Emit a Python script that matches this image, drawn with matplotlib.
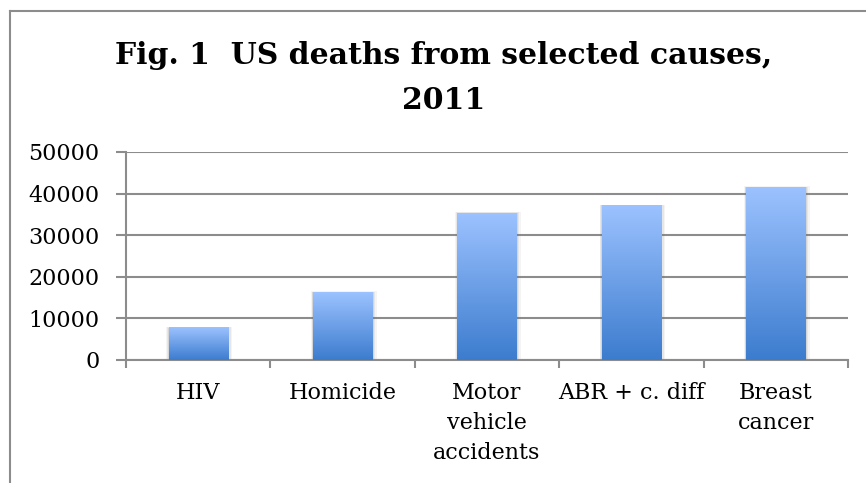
import numpy as np
import matplotlib.pyplot as plt
from matplotlib.colors import LinearSegmentedColormap
from matplotlib.lines import Line2D
from matplotlib.patches import Rectangle

# Données (décès aux USA, 2011)
causes = ["HIV", "Homicide", "Motor\nvehicle\naccidents", "ABR + c. diff", "Breast\ncancer"]
deaths = [7700, 16300, 35300, 37100, 41500]
yticks = [0, 10000, 20000, 30000, 40000, 50000]

plt.rcParams['font.family'] = ['DejaVu Serif']

fig = plt.figure(figsize=(8.66, 4.83), dpi=100)
ax = fig.add_axes([126 / 866, 1 - 360 / 483, 722 / 866, 208 / 483])

# Dégradé bleu des barres (clair en haut, foncé en bas)
cmap = LinearSegmentedColormap.from_list("bleu", ["#3c7cce", "#9cc2ff"])
grad = np.linspace(0, 1, 256).reshape(-1, 1)
width = 0.41

for i, v in enumerate(deaths):
    x0 = i - width / 2
    # ombre légère
    for k, a in enumerate([0.07, 0.10, 0.14]):
        d = 0.01 * (3 - k)
        ax.add_patch(Rectangle((x0 - d * 0.5, 0), width + d * 1.5, v + d * 8000,
                               color="#707070", alpha=a, lw=0, zorder=2))
    ax.imshow(grad, cmap=cmap, origin="lower", aspect="auto",
              extent=[x0, x0 + width, 0, v], zorder=3)

ax.set_xlim(-0.5, len(causes) - 0.5)
ax.set_ylim(0, 50000)

ax.set_yticks(yticks)
ax.set_yticklabels([str(t) for t in yticks])
ax.yaxis.grid(True, color="#8c8c8c", lw=1.5)
ax.set_axisbelow(True)

ax.set_xticks(range(len(causes)))
ax.set_xticklabels(causes, linespacing=1.45, va="top")
ax.set_xticks(np.arange(-0.5, len(causes)), minor=True)
ax.tick_params(axis="x", which="major", length=0, pad=16, labelsize=16)
ax.tick_params(axis="x", which="minor", length=6, width=1.5, color="#8c8c8c")
ax.tick_params(axis="y", length=7, width=1.5, color="#8c8c8c", labelsize=16, pad=12)

for s in ["top", "right"]:
    ax.spines[s].set_visible(False)
for s in ["left", "bottom"]:
    ax.spines[s].set_color("#8c8c8c")
    ax.spines[s].set_linewidth(1.5)

fig.text(0.512, 1 - 78 / 483, "Fig. 1  US deaths from selected causes,\n2011",
         ha="center", va="center", fontsize=21.5, fontweight="bold", linespacing=1.7)

# cadre du graphique
fig.add_artist(Line2D([10 / 866, 10 / 866], [0, 1 - 11 / 483], color="#8c8c8c", lw=1.5))
fig.add_artist(Line2D([10 / 866, 1], [1 - 11 / 483, 1 - 11 / 483], color="#8c8c8c", lw=1.5))

fig.savefig("out.png", dpi=100)
